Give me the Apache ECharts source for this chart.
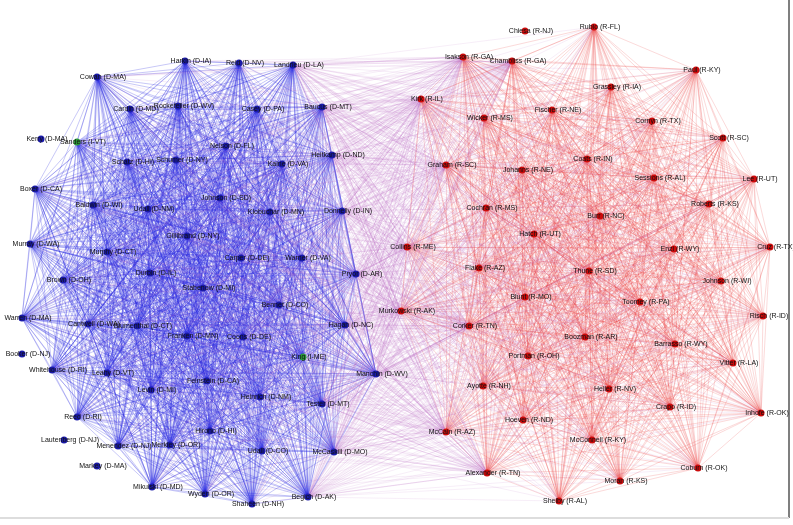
<!DOCTYPE html>
<html><head><meta charset="utf-8">
<script src="https://cdn.jsdelivr.net/npm/echarts@6/dist/echarts.min.js"></script>
<style>html,body{margin:0;padding:0;background:#fff}#c{width:793px;height:525px}</style>
</head><body><div id="c"></div>
<script>
// senators: name, x, y
var demNames = ['Harkin (D-IA)','Reid (D-NV)','Landrieu (D-LA)','Cowan (D-MA)','Cardin (D-MD)','Rockefeller (D-WV)','Casey (D-PA)','Baucus (D-MT)',
 'Schatz (D-HI)','Schumer (D-NY)','Nelson (D-FL)','Kaine (D-VA)','Heitkamp (D-ND)','Boxer (D-CA)','Baldwin (D-WI)','Udall (D-NM)','Johnson (D-SD)',
 'Klobuchar (D-MN)','Donnelly (D-IN)','Murray (D-WA)','Murphy (D-CT)','Gillibrand (D-NY)','Carper (D-DE)','Warner (D-VA)','Durbin (D-IL)','Stabenow (D-MI)',
 'Bennet (D-CO)','Pryor (D-AR)','Hagan (D-NC)','Blumenthal (D-CT)','Franken (D-MN)','Coons (D-DE)','Brown (D-OH)','Warren (D-MA)','Cantwell (D-WA)',
 'Whitehouse (D-RI)','Leahy (D-VT)','Feinstein (D-CA)','Levin (D-MI)','Heinrich (D-NM)','Tester (D-MT)','Reed (D-RI)','Hirono (D-HI)','Menendez (D-NJ)',
 'Merkley (D-OR)','Udall (D-CO)','McCaskill (D-MO)','Mikulski (D-MD)','Wyden (D-OR)','Shaheen (D-NH)','Begich (D-AK)','Manchin (D-WV)',
 'Kerry (D-MA)','Booker (D-NJ)','Lautenberg (D-NJ)','Markey (D-MA)'];
var demX = [185,239,293,97,130,178,257,322,127,176,226,282,332,35,93,148,220,270,342,30,107,187,241,302,150,203,279,356,345,137,187,243,63,22,88,52,107,207,151,260,322,77,210,118,170,262,334,152,205,252,308,376,41,22,64,97];
var demY = [61,63,65,77,109,106,109,107,162,160,146,164,155,189,205,209,198,212,211,244,252,236,258,258,273,288,305,274,325,326,336,337,280,318,324,370,373,381,390,397,404,417,431,446,445,451,452,487,494,504,497,374,139,354,440,466];
var indNames = ['Sanders (I-VT)','King (I-ME)'];
var indX = [77,303];
var indY = [142,357];
var repNames = ['Chiesa (R-NJ)','Rubio (R-FL)','Isakson (R-GA)','Chambliss (R-GA)','Paul (R-KY)','Grassley (R-IA)','Kirk (R-IL)','Fischer (R-NE)',
 'Wicker (R-MS)','Cornyn (R-TX)','Scott (R-SC)','Coats (R-IN)','Graham (R-SC)','Johanns (R-NE)','Sessions (R-AL)','Lee (R-UT)','Roberts (R-KS)',
 'Cochran (R-MS)','Burr (R-NC)','Hatch (R-UT)','Collins (R-ME)','Enzi (R-WY)','Cruz (R-TX)','Flake (R-AZ)','Thune (R-SD)','Johnson (R-WI)','Blunt (R-MO)',
 'Murkowski (R-AK)','Toomey (R-PA)','Risch (R-ID)','Corker (R-TN)','Boozman (R-AR)','Barrasso (R-WY)','Portman (R-OH)','Vitter (R-LA)','Ayotte (R-NH)',
 'Heller (R-NV)','Crapo (R-ID)','Inhofe (R-OK)','Hoeven (R-ND)','McCain (R-AZ)','McConnell (R-KY)','Coburn (R-OK)','Alexander (R-TN)','Moran (R-KS)','Shelby (R-AL)'];
var repX = [525,594,463,512,696,611,421,552,484,652,723,587,446,522,654,754,709,486,600,534,407,674,770,479,589,721,525,401,640,763,469,585,675,528,733,483,609,670,761,523,446,592,698,487,620,559];
var repY = [31,27,57,61,70,87,99,110,118,121,138,159,165,170,178,179,204,208,216,234,247,249,247,268,271,281,297,311,302,316,326,337,344,356,363,386,389,407,413,420,432,440,468,473,481,501];
// senators with almost no co-votes in the picture
var loners = ['Kerry (D-MA)','Booker (D-NJ)','Lautenberg (D-NJ)','Markey (D-MA)','Chiesa (R-NJ)'];
// senators whose ties cross the aisle
var repBridge = ['Collins (R-ME)','Murkowski (R-AK)','Kirk (R-IL)','McCain (R-AZ)','Alexander (R-TN)','Graham (R-SC)','Isakson (R-GA)','Corker (R-TN)','Chambliss (R-GA)'];
var demBridge = ['Manchin (D-WV)','Pryor (D-AR)','Hagan (D-NC)','Heitkamp (D-ND)','Donnelly (D-IN)','McCaskill (D-MO)','Begich (D-AK)','Landrieu (D-LA)','Baucus (D-MT)','Tester (D-MT)'];

var nodes = [];
function addNodes(names, xs, ys, col) {
  for (var i = 0; i < names.length; i++) {
    nodes.push({name: names[i], value: [xs[i], ys[i]], itemStyle: {color: col}});
  }
}
addNodes(demNames, demX, demY, '#1a1aa8');
addNodes(indNames, indX, indY, '#2a9a3a');
addNodes(repNames, repX, repY, '#cc0b0b');

var links = [];
var blue = 'rgba(40,40,225,0.32)', red = 'rgba(232,60,60,0.24)', purple = 'rgba(180,100,190,0.14)';
function clique(list, col) {
  for (var i = 0; i < list.length; i++) {
    if (loners.indexOf(list[i]) >= 0) continue;
    for (var j = i + 1; j < list.length; j++) {
      if (loners.indexOf(list[j]) >= 0) continue;
      links.push({source: list[i], target: list[j], lineStyle: {color: col}});
    }
  }
}
var demSide = demNames.concat(indNames);
clique(demSide, blue);
clique(repNames, red);
function bridge(from, to) {
  from.forEach(function (a) {
    to.forEach(function (b) {
      if (loners.indexOf(b) < 0) links.push({source: a, target: b, lineStyle: {color: purple}});
    });
  });
}
bridge(repBridge, demSide);
bridge(demBridge, repNames);
links.push({source: 'Cowan (D-MA)', target: 'Isakson (R-GA)', lineStyle: {color: purple}});

var chart = echarts.init(document.getElementById('c'));
chart.setOption({
  animation: false,
  grid: {left: 0, right: 0, top: 0, bottom: 0},
  xAxis: {type: 'value', min: 0, max: 793, show: false},
  yAxis: {type: 'value', min: 0, max: 525, inverse: true, show: false},
  graphic: [
    {type: 'line', shape: {x1: 789, y1: 0, x2: 789, y2: 518}, style: {stroke: '#555', lineWidth: 1.5}},
    {type: 'line', shape: {x1: 0, y1: 518, x2: 789, y2: 518}, style: {stroke: '#ddd', lineWidth: 2}}
  ],
  series: [{
    type: 'graph',
    coordinateSystem: 'cartesian2d',
    symbolSize: 7,
    data: nodes,
    links: links,
    lineStyle: {width: 0.8, opacity: 1},
    label: {show: true, position: 'inside', offset: [6, 0], fontSize: 7, color: '#111', fontFamily: 'Liberation Sans'},
    z: 2
  }]
});
</script>
</body></html>
